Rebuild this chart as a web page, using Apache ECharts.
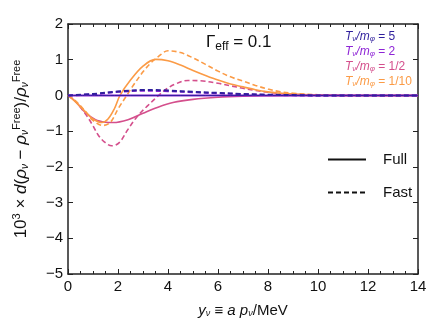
<!DOCTYPE html>
<html>
<head>
<meta charset="utf-8">
<script src="https://cdn.jsdelivr.net/npm/echarts@6/dist/echarts.min.js"></script>
<style>
  html, body { margin: 0; padding: 0; background: #fff; }
  #chart { width: 447px; height: 335px; }
</style>
</head>
<body>
<div id="chart"></div>
<script>
// 读图得到的数据 [y_nu, value]
const fullT5 = [[0, 0], [2, 0], [4, 0], [6, 0], [8, 0], [10, 0], [12, 0], [14, 0]];
const fastT5 = [[0, 0], [1, 0.04], [2, 0.11], [3, 0.15], [3.5, 0.15], [4, 0.14], [5, 0.1], [6, 0.07], [7, 0.04], [8, 0.02], [9, 0.01], [10, 0], [14, 0]];
const fullT2 = [[0, 0], [2, 0], [4, 0], [6, 0], [8, 0], [10, 0], [12, 0], [14, 0]];
const fastT2 = [[0, 0], [1, 0.03], [2, 0.1], [3, 0.13], [4, 0.12], [5, 0.09], [6, 0.06], [7, 0.035], [8, 0.015], [9, 0.005], [10, 0], [14, 0]];
const fullTHalf = [[0, 0], [0.3, -0.17], [0.7, -0.48], [1.1, -0.68], [1.5, -0.75], [1.8, -0.76], [2.4, -0.68], [3.0, -0.5], [3.6, -0.33], [4.2, -0.2], [5.0, -0.11], [6, -0.05], [7, -0.02], [8, -0.007], [9, 0], [14, 0]];
const fastTHalf = [[0, 0], [0.3, -0.17], [0.7, -0.52], [1.0, -0.85], [1.2, -1.1], [1.45, -1.3], [1.75, -1.41], [2.05, -1.32], [2.4, -0.95], [2.7, -0.65], [2.95, -0.45], [3.2, -0.28], [3.5, -0.08], [3.9, 0.16], [4.3, 0.32], [4.8, 0.42], [5.3, 0.41], [6, 0.34], [6.5, 0.27], [7, 0.2], [7.5, 0.14], [8, 0.09], [8.5, 0.055], [9, 0.03], [10, 0.01], [11, 0], [14, 0]];
const fullT10 = [[0, 0], [0.3, -0.18], [0.7, -0.46], [1.0, -0.66], [1.35, -0.76], [1.6, -0.66], [1.85, -0.38], [2.08, 0], [2.5, 0.43], [3.0, 0.82], [3.5, 1.01], [4.0, 0.97], [4.5, 0.85], [5, 0.7], [5.5, 0.56], [6, 0.43], [6.5, 0.32], [7, 0.24], [7.5, 0.16], [8, 0.1], [8.5, 0.06], [9, 0.04], [10, 0.01], [11, 0], [14, 0]];
const fastT10 = [[0, 0], [0.3, -0.15], [0.7, -0.45], [1.0, -0.7], [1.4, -0.84], [1.7, -0.75], [2.0, -0.38], [2.35, 0], [2.6, 0.27], [3.0, 0.66], [3.3, 0.9], [3.6, 1.08], [4.0, 1.25], [4.5, 1.2], [5, 1.05], [5.5, 0.87], [6, 0.68], [6.5, 0.52], [7, 0.4], [7.5, 0.28], [8, 0.18], [8.5, 0.1], [9, 0.06], [10, 0.02], [11, 0.005], [12, 0], [14, 0]];

const tickX = [0, 2, 4, 6, 8, 10, 12, 14];
const tickY = [-5, -4, -3, -2, -1, 0, 1, 2];

const colT5 = '#2f1f9c', colT2 = '#8e24d6', colTHalf = '#d44f8c', colT10 = '#fb9b46';
const font = '"Liberation Sans", Arial, sans-serif';

let myChart = echarts.init(document.getElementById('chart'), null, { renderer: 'canvas' });

function line(name, data, color, dashed, width, z) {
  return {
    name: name,
    type: 'line',
    data: data,
    smooth: 0.35,
    showSymbol: false,
    symbol: 'none',
    z: z,
    lineStyle: { color: color, width: width, type: dashed ? [5, 3] : 'solid' }
  };
}

const axisCommon = {
  axisLine: { show: true, onZero: false, lineStyle: { color: '#222', width: 1.5 } },
  splitLine: { show: false },
  axisTick: { show: true, inside: true, length: 5, lineStyle: { color: '#222', width: 1 } }
};

// 彩色图例文字
function legendRow(key, label, value) {
  return '{' + key + '|T}{' + key + 's|ν}{' + key + '|/m}{' + key + 's|φ}{' + key + 'n| = ' + value + '}';
}
function legendRich(key, color) {
  let r = {};
  r[key] = { fontFamily: font, fontSize: 12, fontStyle: 'italic', fill: color, lineHeight: 15 };
  r[key + 's'] = { fontFamily: font, fontSize: 8, fontStyle: 'italic', fill: color, padding: [4, 0, 0, 0], lineHeight: 15 };
  r[key + 'n'] = { fontFamily: font, fontSize: 12, fill: color, lineHeight: 15 };
  return r;
}

let option = {
  animation: false,
  grid: { left: 68, right: 29, top: 24, bottom: 61 },
  legend: {
    data: ['Full', 'Fast'],
    orient: 'vertical',
    left: 322,
    top: 147,
    itemWidth: 38,
    itemHeight: 14,
    itemGap: 18,
    itemStyle: { opacity: 0 },
    textStyle: { fontFamily: font, fontSize: 15, color: '#111', padding: [0, 0, 0, 12] }
  },
  xAxis: [
    Object.assign({}, axisCommon, {
      type: 'value', min: tickX[0], max: tickX[tickX.length - 1], interval: 2,
      minorTick: { show: true, splitNumber: 4, length: 3, lineStyle: { color: '#222' } },
      axisLabel: { fontFamily: font, fontSize: 15, color: '#111', margin: 5 },
      name: '{it|y}{sub|ν} ≡ {it|a p}{sub|ν}{n|/MeV}',
      nameLocation: 'middle',
      nameGap: 29,
      nameTextStyle: {
        fontFamily: font, fontSize: 15, color: '#111',
        rich: {
          it: { fontFamily: font, fontSize: 15, fontStyle: 'italic', color: '#111' },
          n: { fontFamily: font, fontSize: 15, color: '#111' },
          sub: { fontFamily: font, fontSize: 9, fontStyle: 'italic', color: '#111', padding: [6, 0, 0, 0] }
        }
      }
    }),
    Object.assign({}, axisCommon, {
      type: 'value', position: 'top', min: 0, max: 14, interval: 2,
      minorTick: { show: true, splitNumber: 4, length: 3, lineStyle: { color: '#222' } },
      axisLabel: { show: false }
    })
  ],
  yAxis: [
    Object.assign({}, axisCommon, {
      type: 'value', min: tickY[0], max: tickY[tickY.length - 1], interval: 1,
      axisLabel: {
        fontFamily: font, fontSize: 15, color: '#111', margin: 5,
        formatter: v => String(v).replace('-', '\u2212')
      },
      name: '{n|10}{sup|3}{n| × }{it|d}{n|(}{it|ρ}{sub|ν}{n| − }{it|ρ}{sub|ν}{sup|Free}{n|)/}{it|ρ}{sub|ν}{sup|Free}',
      nameLocation: 'middle',
      nameRotate: 90,
      nameGap: 36,
      nameTextStyle: {
        fontFamily: font, fontSize: 16, color: '#111',
        rich: {
          it: { fontFamily: font, fontSize: 17, fontStyle: 'italic', color: '#111' },
          n: { fontFamily: font, fontSize: 17, color: '#111' },
          sub: { fontFamily: font, fontSize: 10, fontStyle: 'italic', color: '#111', padding: [8, 0, 0, 0] },
          sup: { fontFamily: font, fontSize: 11, color: '#111', padding: [0, 0, 10, 0] }
        }
      }
    }),
    Object.assign({}, axisCommon, {
      type: 'value', position: 'right', min: -5, max: 2, interval: 1,
      axisLabel: { show: false }
    })
  ],
  graphic: [
    {
      type: 'text', left: 206, top: 34,
      style: {
        text: '{g|Γ}{sub|eff}{g| = 0.1}',
        rich: {
          g: { fontFamily: font, fontSize: 17, fill: '#111' },
          sub: { fontFamily: font, fontSize: 12, fill: '#111', padding: [8, 0, 0, 0] }
        }
      }
    },
    {
      type: 'text', left: 345, top: 29,
      style: {
        text: [legendRow('a', 'T', '5'), legendRow('b', 'T', '2'), legendRow('c', 'T', '1/2'), legendRow('d', 'T', '1/10')].join('\n'),
        lineHeight: 15,
        rich: Object.assign({}, legendRich('a', colT5), legendRich('b', colT2), legendRich('c', colTHalf), legendRich('d', colT10))
      }
    }
  ],
  series: [
    // 图例用的空系列
    { name: 'Full', type: 'line', data: [], symbol: 'none', lineStyle: { color: '#111', width: 2, type: 'solid' }, itemStyle: { color: '#111' } },
    { name: 'Fast', type: 'line', data: [], symbol: 'none', lineStyle: { color: '#111', width: 2, type: [5, 3] }, itemStyle: { color: '#111' } },
    line('full 1/2', fullTHalf, colTHalf, false, 1.6, 2),
    line('fast 1/2', fastTHalf, colTHalf, true, 1.6, 2),
    line('full 1/10', fullT10, colT10, false, 1.6, 3),
    line('fast 1/10', fastT10, colT10, true, 1.6, 3),
    line('full 2', fullT2, colT2, false, 2, 4),
    line('full 5', fullT5, colT5, false, 1, 4),
    line('fast 2', fastT2, colT2, true, 2, 5),
    line('fast 5', fastT5, colT5, true, 2, 6)
  ]
};

myChart.setOption(option);
</script>
</body>
</html>
